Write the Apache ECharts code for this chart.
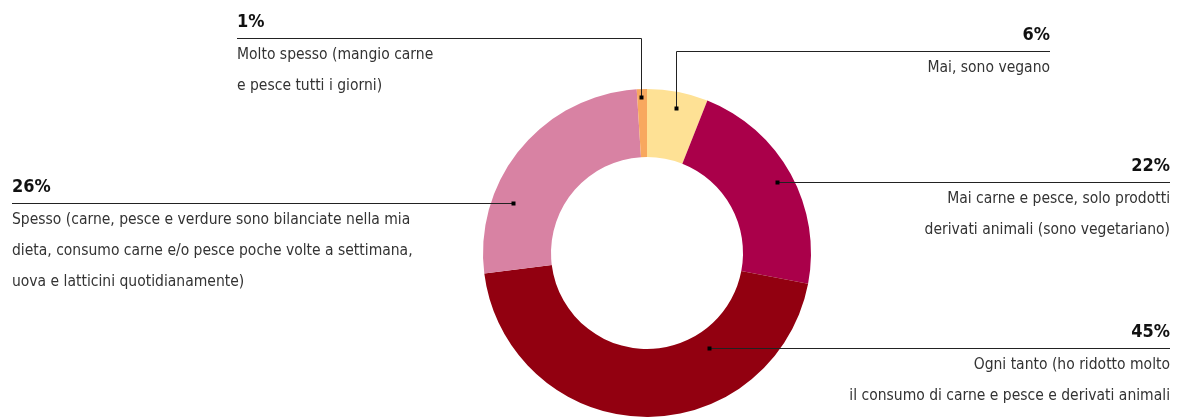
<!DOCTYPE html>
<html><head><meta charset="utf-8">
<script src="https://cdn.jsdelivr.net/npm/echarts@6/dist/echarts.min.js"></script>
<style>html,body{margin:0;padding:0;background:#fff}#c{width:1200px;height:418px}</style>
</head><body><div id="c"></div>
<script>
// ---- data ----
const categories = [
  'Mai, sono vegano',
  'Mai carne e pesce, solo prodotti derivati animali (sono vegetariano)',
  'Ogni tanto (ho ridotto molto il consumo di carne e pesce e derivati animali',
  'Spesso (carne, pesce e verdure sono bilanciate nella mia dieta, consumo carne e/o pesce poche volte a settimana, uova e latticini quotidianamente)',
  'Molto spesso (mangio carne e pesce tutti i giorni)'
];
const values = [6, 22, 45, 26, 1];
const descLines = [
  ['Mai, sono vegano'],
  ['Mai carne e pesce, solo prodotti', 'derivati animali (sono vegetariano)'],
  ['Ogni tanto (ho ridotto molto', 'il consumo di carne e pesce e derivati animali'],
  ['Spesso (carne, pesce e verdure sono bilanciate nella mia', 'dieta, consumo carne e/o pesce poche volte a settimana,', 'uova e latticini quotidianamente)'],
  ['Molto spesso (mangio carne', 'e pesce tutti i giorni)']
];
const colors = ['#FEE195', '#AA004A', '#920010', '#D882A3', '#F8A85E'];

// ---- annotation layout (positions only) ----
const anchors = [
  { dot: [676, 108], lineY: 51, side: 'right', edge: 1050 },
  { dot: [777, 182], lineY: 182, side: 'right', edge: 1170 },
  { dot: [709, 348], lineY: 348, side: 'right', edge: 1170 },
  { dot: [513, 203], lineY: 203, side: 'left', edge: 12 },
  { dot: [641, 97], lineY: 38, side: 'left', edge: 237 }
];
const FONT = '"Liberation Sans Narrow", "DejaVu Sans Condensed", "Noto Sans", sans-serif';

const chart = echarts.init(document.getElementById('c'), null, { renderer: 'canvas' });
const data = categories.map((name, i) => ({
  name, value: values[i], itemStyle: { color: colors[i] }
}));
const labelData = categories.map((name, i) => ({ name, value: values[i] }));

const pieBase = {
  type: 'pie',
  silent: true,
  center: [647, 253],
  radius: [96, 164],
  startAngle: 90,
  clockwise: true,
  avoidLabelOverlap: false
};

chart.setOption({
  animation: false,
  backgroundColor: '#fff',
  series: [
    Object.assign({}, pieBase, {
      z: 2,
      data,
      itemStyle: { borderWidth: 0 },
      label: { show: false },
      labelLine: { show: false }
    }),
    Object.assign({}, pieBase, {
      z: 5,
      data: labelData,
      itemStyle: { color: 'rgba(0,0,0,0)', borderWidth: 0 },
      label: {
        show: true,
        fontFamily: FONT,
        formatter: p => '{p|' + p.value + '%}\n' + descLines[p.dataIndex].map(l => '{t|' + l + '}').join('\n'),
        rich: {
          p: { fontFamily: FONT, fontWeight: 'bold', fontSize: 18, color: '#111', lineHeight: 34 },
          t: { fontFamily: FONT, fontSize: 15.5, color: '#333', lineHeight: 31 }
        }
      },
      labelLine: { show: true, lineStyle: { color: '#222', width: 1 } },
      labelLayout: function (params) {
        const a = anchors[params.dataIndex];
        const ly = a.lineY + 0.5;
        return {
          x: a.edge,
          y: a.lineY - 33,
          align: a.side === 'right' ? 'right' : 'left',
          verticalAlign: 'top',
          labelLinePoints: [[a.dot[0] + 0.5, a.dot[1]], [a.dot[0] + 0.5, ly], [a.edge, ly]]
        };
      }
    })
  ],
  graphic: anchors.map(a => ({
    type: 'rect',
    silent: true,
    z: 100,
    shape: { x: a.dot[0] - 1.5, y: a.dot[1] - 1.5, width: 4, height: 4 },
    style: { fill: '#000' }
  }))
});
</script>
</body></html>
